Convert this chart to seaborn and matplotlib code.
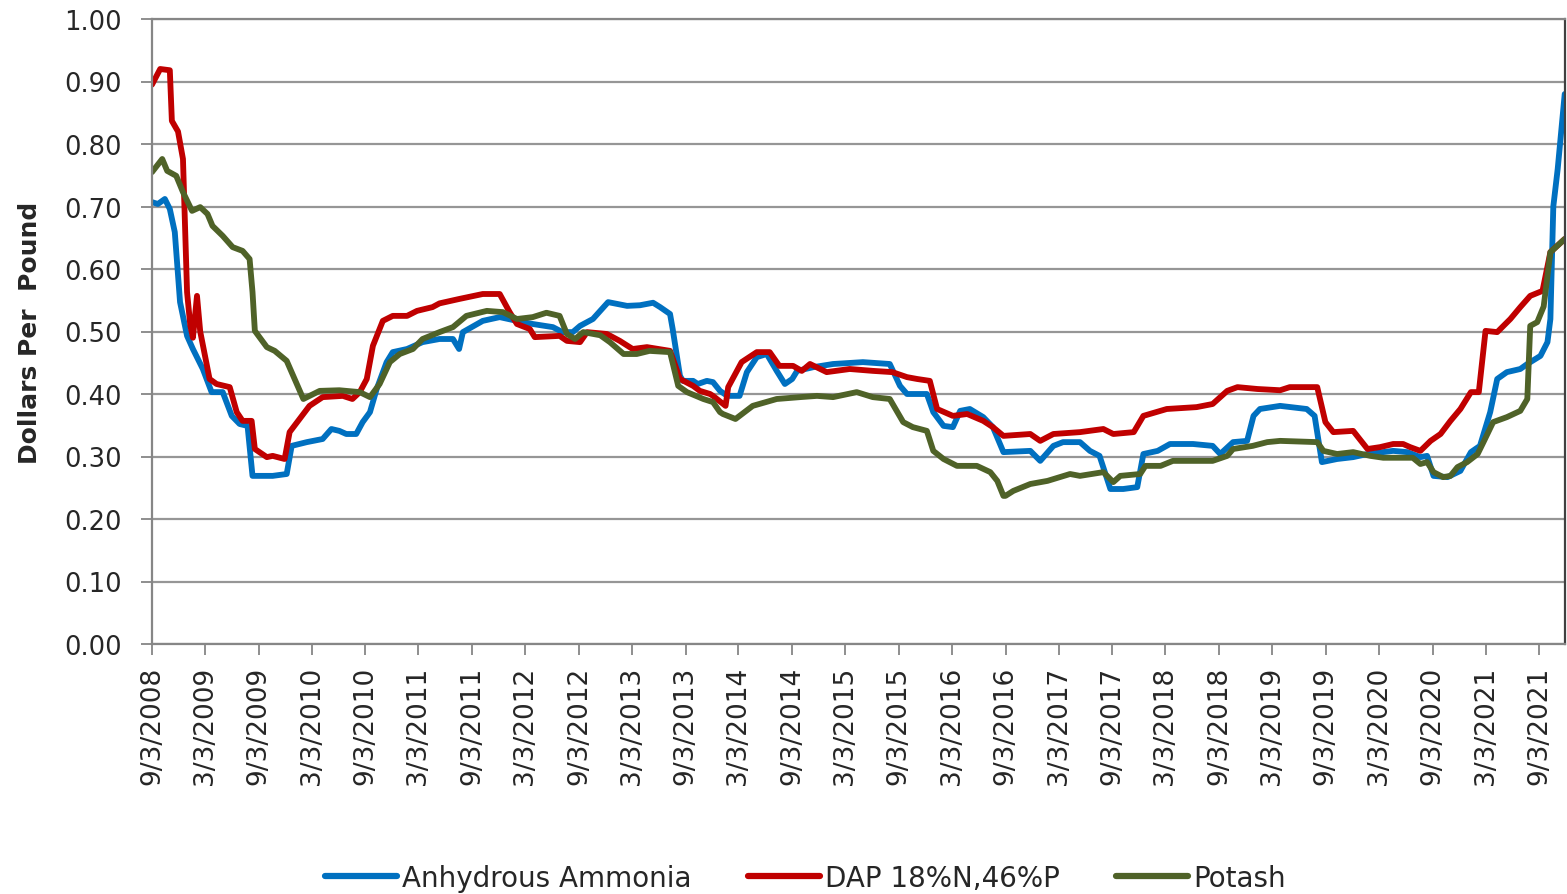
import pandas as pd
import seaborn as sns
import matplotlib.pyplot as plt
from matplotlib.lines import Line2D

SERIES = ["Anhydrous Ammonia", "DAP 18%N,46%P", "Potash"]
COLORS = ["#0070C0", "#C00000", "#4F6228"]

# (date, dollars per pound)
ammonia = [
    ("2008-09-03", 0.707), ("2008-09-23", 0.704), ("2008-10-17", 0.712), ("2008-11-03", 0.696),
    ("2008-11-20", 0.659), ("2008-12-08", 0.547), ("2009-01-01", 0.493), ("2009-01-21", 0.472),
    ("2009-02-24", 0.440), ("2009-03-26", 0.403), ("2009-05-03", 0.403), ("2009-06-03", 0.365),
    ("2009-06-30", 0.352), ("2009-07-27", 0.349), ("2009-08-13", 0.269), ("2009-10-21", 0.269),
    ("2009-12-08", 0.272), ("2009-12-25", 0.317), ("2010-02-15", 0.323), ("2010-04-10", 0.328),
    ("2010-05-10", 0.344), ("2010-06-06", 0.341), ("2010-06-30", 0.336), ("2010-08-03", 0.336),
    ("2010-08-25", 0.355), ("2010-09-19", 0.371), ("2010-10-12", 0.408), ("2010-11-15", 0.451),
    ("2010-12-06", 0.467), ("2011-01-24", 0.472), ("2011-03-18", 0.483), ("2011-05-15", 0.488),
    ("2011-06-30", 0.488), ("2011-07-21", 0.472), ("2011-08-03", 0.499), ("2011-10-10", 0.517),
    ("2011-12-07", 0.523), ("2012-02-04", 0.517), ("2012-03-29", 0.512), ("2012-06-06", 0.507),
    ("2012-07-09", 0.499), ("2012-08-13", 0.499), ("2012-09-07", 0.509), ("2012-10-21", 0.520),
    ("2012-11-21", 0.536), ("2012-12-12", 0.547), ("2013-02-15", 0.541), ("2013-03-31", 0.542),
    ("2013-05-15", 0.546), ("2013-06-08", 0.539), ("2013-07-12", 0.528), ("2013-07-21", 0.504),
    ("2013-08-15", 0.429), ("2013-08-25", 0.421), ("2013-09-29", 0.421), ("2013-10-15", 0.416),
    ("2013-11-15", 0.421), ("2013-12-06", 0.419), ("2013-12-30", 0.405), ("2014-01-24", 0.397),
    ("2014-03-07", 0.397), ("2014-04-01", 0.435), ("2014-05-05", 0.459), ("2014-06-08", 0.464),
    ("2014-07-12", 0.437), ("2014-08-09", 0.416), ("2014-09-03", 0.424), ("2014-09-20", 0.437),
    ("2014-11-15", 0.443), ("2015-01-21", 0.448), ("2015-05-03", 0.451), ("2015-08-03", 0.448),
    ("2015-09-07", 0.413), ("2015-10-01", 0.400), ("2015-12-08", 0.400), ("2015-12-30", 0.371),
    ("2016-02-03", 0.349), ("2016-03-06", 0.347), ("2016-03-31", 0.373), ("2016-05-03", 0.376),
    ("2016-06-18", 0.363), ("2016-07-21", 0.347), ("2016-08-26", 0.307), ("2016-11-26", 0.309),
    ("2016-12-30", 0.293), ("2017-02-13", 0.317), ("2017-03-18", 0.323), ("2017-05-15", 0.323),
    ("2017-06-18", 0.309), ("2017-07-21", 0.301), ("2017-08-27", 0.248), ("2017-10-10", 0.248),
    ("2017-11-27", 0.251), ("2017-12-18", 0.304), ("2018-02-05", 0.309), ("2018-03-19", 0.320),
    ("2018-06-06", 0.320), ("2018-08-12", 0.317), ("2018-09-07", 0.304), ("2018-10-21", 0.323),
    ("2018-12-08", 0.325), ("2018-12-30", 0.365), ("2019-01-21", 0.376), ("2019-03-31", 0.381),
    ("2019-06-30", 0.376), ("2019-07-27", 0.365), ("2019-08-21", 0.291), ("2019-10-12", 0.296),
    ("2019-12-06", 0.299), ("2020-01-24", 0.304), ("2020-04-21", 0.309), ("2020-06-08", 0.307),
    ("2020-07-23", 0.299), ("2020-08-15", 0.301), ("2020-09-06", 0.269), ("2020-10-24", 0.267),
    ("2020-12-07", 0.277), ("2021-01-12", 0.307), ("2021-02-12", 0.317), ("2021-03-19", 0.371),
    ("2021-04-12", 0.424), ("2021-05-15", 0.435), ("2021-06-30", 0.440), ("2021-07-24", 0.448),
    ("2021-09-07", 0.461), ("2021-10-01", 0.483), ("2021-10-11", 0.520), ("2021-10-21", 0.700),
    ("2021-11-05", 0.760), ("2021-11-29", 0.880),
]

dap = [
    ("2008-09-03", 0.895), ("2008-10-01", 0.920), ("2008-11-03", 0.918), ("2008-11-10", 0.837),
    ("2008-12-01", 0.820), ("2008-12-18", 0.776), ("2009-01-01", 0.563), ("2009-01-12", 0.510),
    ("2009-01-21", 0.490), ("2009-02-04", 0.557), ("2009-02-15", 0.500), ("2009-03-19", 0.424),
    ("2009-04-12", 0.416), ("2009-05-27", 0.411), ("2009-06-20", 0.371), ("2009-07-10", 0.357),
    ("2009-08-10", 0.357), ("2009-08-21", 0.312), ("2009-10-01", 0.299), ("2009-10-21", 0.301),
    ("2009-12-01", 0.296), ("2009-12-18", 0.339), ("2010-01-21", 0.360), ("2010-02-24", 0.381),
    ("2010-04-10", 0.395), ("2010-06-18", 0.397), ("2010-07-21", 0.392), ("2010-08-15", 0.403),
    ("2010-09-08", 0.424), ("2010-09-29", 0.477), ("2010-11-02", 0.517), ("2010-12-06", 0.525),
    ("2011-01-24", 0.525), ("2011-02-27", 0.533), ("2011-04-21", 0.539), ("2011-05-15", 0.545),
    ("2011-07-21", 0.552), ("2011-10-10", 0.560), ("2011-12-07", 0.560), ("2012-01-10", 0.531),
    ("2012-02-04", 0.512), ("2012-03-19", 0.504), ("2012-04-05", 0.491), ("2012-06-29", 0.493),
    ("2012-07-24", 0.485), ("2012-09-07", 0.483), ("2012-10-01", 0.499), ("2012-12-08", 0.496),
    ("2013-01-21", 0.485), ("2013-03-06", 0.472), ("2013-04-24", 0.475), ("2013-07-12", 0.469),
    ("2013-08-15", 0.424), ("2013-09-29", 0.413), ("2013-10-22", 0.405), ("2013-11-26", 0.400),
    ("2013-12-06", 0.397), ("2014-01-18", 0.381), ("2014-01-27", 0.411), ("2014-03-14", 0.451),
    ("2014-05-05", 0.467), ("2014-06-18", 0.467), ("2014-07-21", 0.445), ("2014-09-06", 0.445),
    ("2014-10-06", 0.437), ("2014-11-03", 0.448), ("2014-12-30", 0.435), ("2015-03-19", 0.440),
    ("2015-06-06", 0.437), ("2015-08-12", 0.435), ("2015-10-01", 0.427), ("2015-11-05", 0.424),
    ("2015-12-18", 0.421), ("2016-01-12", 0.376), ("2016-03-06", 0.365), ("2016-04-24", 0.368),
    ("2016-06-18", 0.357), ("2016-07-21", 0.347), ("2016-08-26", 0.333), ("2016-11-26", 0.336),
    ("2016-12-30", 0.325), ("2017-02-13", 0.336), ("2017-05-15", 0.339), ("2017-08-03", 0.344),
    ("2017-09-06", 0.336), ("2017-11-15", 0.339), ("2017-12-18", 0.365), ("2018-03-08", 0.376),
    ("2018-06-18", 0.379), ("2018-08-12", 0.384), ("2018-10-01", 0.405), ("2018-11-05", 0.411),
    ("2019-01-12", 0.408), ("2019-03-31", 0.406), ("2019-05-03", 0.411), ("2019-08-05", 0.411),
    ("2019-09-02", 0.355), ("2019-09-29", 0.339), ("2019-12-06", 0.341), ("2020-01-24", 0.312),
    ("2020-03-07", 0.315), ("2020-04-21", 0.320), ("2020-05-25", 0.320), ("2020-06-18", 0.315),
    ("2020-07-23", 0.309), ("2020-08-27", 0.325), ("2020-09-30", 0.336), ("2020-11-03", 0.357),
    ("2020-12-07", 0.376), ("2021-01-12", 0.403), ("2021-02-08", 0.403), ("2021-03-03", 0.501),
    ("2021-04-12", 0.499), ("2021-05-27", 0.520), ("2021-06-30", 0.539), ("2021-08-03", 0.557),
    ("2021-09-14", 0.565), ("2021-10-11", 0.627), ("2021-11-29", 0.648),
]

potash = [
    ("2008-09-03", 0.755), ("2008-10-08", 0.776), ("2008-10-25", 0.757), ("2008-11-25", 0.749),
    ("2008-12-18", 0.723), ("2009-01-18", 0.693), ("2009-02-15", 0.699), ("2009-03-12", 0.688),
    ("2009-03-29", 0.669), ("2009-05-03", 0.653), ("2009-06-06", 0.635), ("2009-07-10", 0.629),
    ("2009-08-03", 0.616), ("2009-08-13", 0.563), ("2009-08-21", 0.501), ("2009-10-01", 0.475),
    ("2009-10-28", 0.469), ("2009-12-08", 0.453), ("2010-02-03", 0.392), ("2010-03-31", 0.405),
    ("2010-06-06", 0.406), ("2010-08-15", 0.403), ("2010-09-19", 0.395), ("2010-10-22", 0.416),
    ("2010-11-26", 0.451), ("2010-12-30", 0.464), ("2011-02-13", 0.472), ("2011-03-18", 0.488),
    ("2011-05-15", 0.499), ("2011-06-30", 0.507), ("2011-08-15", 0.525), ("2011-10-24", 0.533),
    ("2011-12-18", 0.531), ("2012-02-04", 0.520), ("2012-03-29", 0.523), ("2012-05-15", 0.530),
    ("2012-06-29", 0.525), ("2012-07-24", 0.496), ("2012-08-21", 0.488), ("2012-09-18", 0.499),
    ("2012-11-15", 0.494), ("2012-12-18", 0.483), ("2013-02-03", 0.464), ("2013-03-20", 0.464),
    ("2013-05-03", 0.469), ("2013-07-12", 0.467), ("2013-08-09", 0.413), ("2013-09-08", 0.403),
    ("2013-11-03", 0.392), ("2013-12-06", 0.387), ("2013-12-30", 0.371), ("2014-01-09", 0.368),
    ("2014-02-21", 0.360), ("2014-04-21", 0.381), ("2014-07-12", 0.392), ("2014-09-30", 0.395),
    ("2014-11-27", 0.397), ("2015-01-21", 0.395), ("2015-04-12", 0.403), ("2015-06-06", 0.395),
    ("2015-08-03", 0.392), ("2015-09-18", 0.355), ("2015-10-21", 0.347), ("2015-12-08", 0.341),
    ("2015-12-30", 0.309), ("2016-02-03", 0.296), ("2016-03-20", 0.285), ("2016-05-27", 0.285),
    ("2016-07-12", 0.275), ("2016-08-05", 0.261), ("2016-08-26", 0.237), ("2016-09-02", 0.237),
    ("2016-09-29", 0.245), ("2016-11-26", 0.256), ("2017-01-24", 0.261), ("2017-04-11", 0.272),
    ("2017-05-15", 0.269), ("2017-08-03", 0.275), ("2017-09-06", 0.259), ("2017-09-30", 0.269),
    ("2017-12-07", 0.272), ("2017-12-25", 0.285), ("2018-02-15", 0.285), ("2018-03-29", 0.293),
    ("2018-08-12", 0.293), ("2018-10-01", 0.301), ("2018-10-21", 0.312), ("2018-12-27", 0.317),
    ("2019-02-15", 0.323), ("2019-03-31", 0.325), ("2019-08-05", 0.323), ("2019-08-26", 0.309),
    ("2019-10-12", 0.304), ("2019-12-06", 0.307), ("2020-02-03", 0.301), ("2020-03-18", 0.298),
    ("2020-06-27", 0.298), ("2020-07-23", 0.288), ("2020-08-15", 0.291), ("2020-09-06", 0.275),
    ("2020-10-09", 0.267), ("2020-11-03", 0.269), ("2020-11-27", 0.283), ("2020-12-30", 0.291),
    ("2021-02-04", 0.304), ("2021-02-24", 0.323), ("2021-03-29", 0.355), ("2021-05-15", 0.363),
    ("2021-06-30", 0.373), ("2021-07-24", 0.392), ("2021-08-03", 0.509), ("2021-08-27", 0.515),
    ("2021-09-18", 0.540), ("2021-10-11", 0.627), ("2021-11-29", 0.648),
]

tick_dates = [pd.Timestamp("2008-09-03") + pd.DateOffset(months=6 * i) for i in range(27)]
tick_labels = [f"{d.month}/{d.day}/{d.year}" for d in tick_dates]
y_ticks = [i / 10 for i in range(11)]

frames = []
for name, pts in zip(SERIES, [ammonia, dap, potash]):
    d = pd.DataFrame(pts, columns=["date", "price"])
    d["date"] = pd.to_datetime(d["date"])
    d["series"] = name
    frames.append(d)
df = pd.concat(frames, ignore_index=True)

sns.set_style("white")
plt.rcParams["font.family"] = ["DejaVu Sans"]

fig, ax = plt.subplots(figsize=(15.67, 8.95), dpi=100)
fig.subplots_adjust(left=152 / 1567, right=1565 / 1567, top=1 - 20 / 895, bottom=1 - 645 / 895)

sns.lineplot(data=df, x="date", y="price", hue="series", palette=dict(zip(SERIES, COLORS)),
             estimator=None, linewidth=4.2, legend=False, ax=ax,
             solid_joinstyle="round", solid_capstyle="round")

ax.set_xlim(pd.Timestamp("2008-09-03"), pd.Timestamp("2021-11-30"))
ax.set_ylim(0, 1.0)
ax.set_xticks(tick_dates)
ax.set_xticklabels(tick_labels, rotation=90, fontsize=19)
ax.set_yticks(y_ticks)
ax.set_yticklabels([f"{v:.2f}" for v in y_ticks], fontsize=18.5)
ax.tick_params(axis="x", bottom=True, direction="out", length=8, width=1.3, color="#868686", pad=8)
ax.tick_params(axis="y", left=True, direction="out", length=8, width=1.3, color="#868686", pad=14)

ax.yaxis.grid(True, color="#969696", linewidth=1.6)
ax.xaxis.grid(False)
ax.set_axisbelow(True)
for side in ["left", "bottom", "top"]:
    ax.spines[side].set_color("#868686")
    ax.spines[side].set_linewidth(1.6)
ax.spines["right"].set_color("#404040")
ax.spines["right"].set_linewidth(1.6)

ax.set_xlabel("")
ax.set_ylabel("Dollars Per  Pound", fontsize=18, fontweight="bold")
ax.yaxis.set_label_coords(-0.078, 0.5)

handles = [Line2D([0], [0], color=c, linewidth=4.5, solid_capstyle="round") for c in COLORS]
fig.legend(handles, SERIES, loc="center", bbox_to_anchor=(0.514, 0.018), ncol=3, frameon=False,
           fontsize=20, handlelength=2.6, handletextpad=0.2, columnspacing=2.0)

fig.savefig("out.png", dpi=100)
